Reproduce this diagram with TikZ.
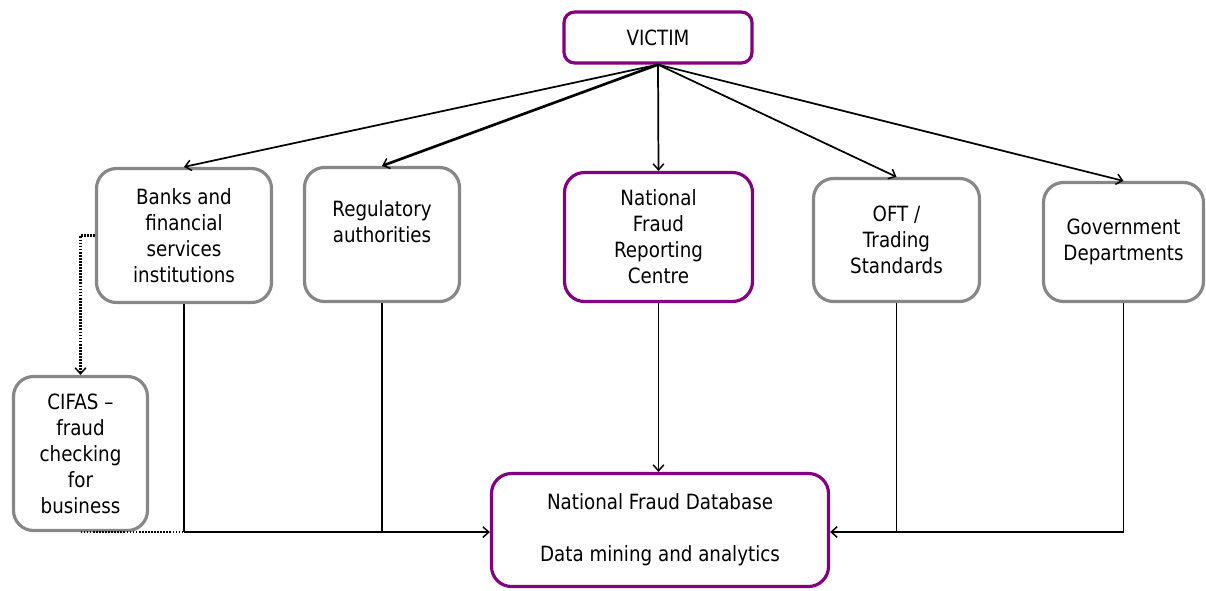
\documentclass[tikz,border=0pt]{standalone}
\usepackage{fontspec}
\setmainfont{DejaVu Sans}[FakeStretch=0.87]
\usetikzlibrary{arrows.meta}
\definecolor{boxpurple}{HTML}{800080}
\definecolor{boxgray}{HTML}{878787}
\begin{document}
\begin{tikzpicture}[x=0.75pt,y=-0.75pt,
  base/.style={draw, line width=2.4pt, rounded corners=15pt, align=center, inner sep=0pt,
    font=\fontsize{15.75pt}{19.5pt}\selectfont, fill=white},
  pbox/.style={base, draw=boxpurple},
  gbox/.style={base, draw=boxgray},
  sz/.style 2 args={minimum width=#1*0.75pt, minimum height=#2*0.75pt},
  tip/.style={-{Straight Barb[length=4.5pt,width=8pt,line width=1.1pt]}},
  thin/.style={line width=1.3pt},
  thick/.style={line width=2pt},
  dots/.style={line width=2pt, dash pattern=on 1.3pt off 1pt}
]
\useasboundingbox (0,0) rectangle (1206,590);

\node[pbox, sz={188}{51}, rounded corners=8pt] (victim) at (658,37.5) {VICTIM};
\node[gbox, sz={175}{134}] (banks) at (184,235.5) {Banks and\\financial\\services\\institutions};
\node[gbox, sz={155}{134}] (reg) at (382,234.5) {Regulatory\\authorities\\ };
\node[pbox, sz={188}{129}] (nfrc) at (658.5,237) {National\\Fraud\\Reporting\\Centre};
\node[gbox, sz={166}{123}] (oft) at (896.5,240) {OFT /\\Trading\\Standards};
\node[gbox, sz={160}{119}] (gov) at (1123.5,242) {Government\\Departments};
\node[gbox, sz={134}{154}] (cifas) at (80.5,453.5) {CIFAS --\\fraud\\checking\\for\\business};
\node[pbox, sz={337}{113}] (nfd) at (660,530) {National Fraud Database\\[19.5pt]Data mining and analytics};

% victim fan-out
\draw[thin, tip] (victim.south) -- (banks.north);
\draw[thick, tip] (victim.south) -- (reg.north);
\draw[thin, tip] (victim.south) -- (nfrc.north);
\draw[thin, tip] (victim.south) -- (oft.north);
\draw[thin, tip] (victim.south) -- (gov.north);

% banks to CIFAS (dotted)
\draw[dots, tip] (banks.west) -| (cifas.north);

% left collectors
\coordinate (jl) at (cifas.south);
\draw[dots] (cifas.south) -- (banks.south |- jl);
\draw[thick] (banks.south) -- (banks.south |- jl);
\draw[thick] (reg.south) -- (reg.south |- jl);
\draw[thick, tip] (banks.south |- jl) -- (nfd.west |- jl);

% centre
\draw[thin, tip] (nfrc.south) -- (nfrc.south |- nfd.north);

% right collectors
\coordinate (jr) at (1126,532);
\draw[thin] (oft.south) -- (oft.south |- jr);
\draw[thin, tip] (gov.south) -- (gov.south |- jr) -- (nfd.east |- jr);
\end{tikzpicture}
\end{document}
